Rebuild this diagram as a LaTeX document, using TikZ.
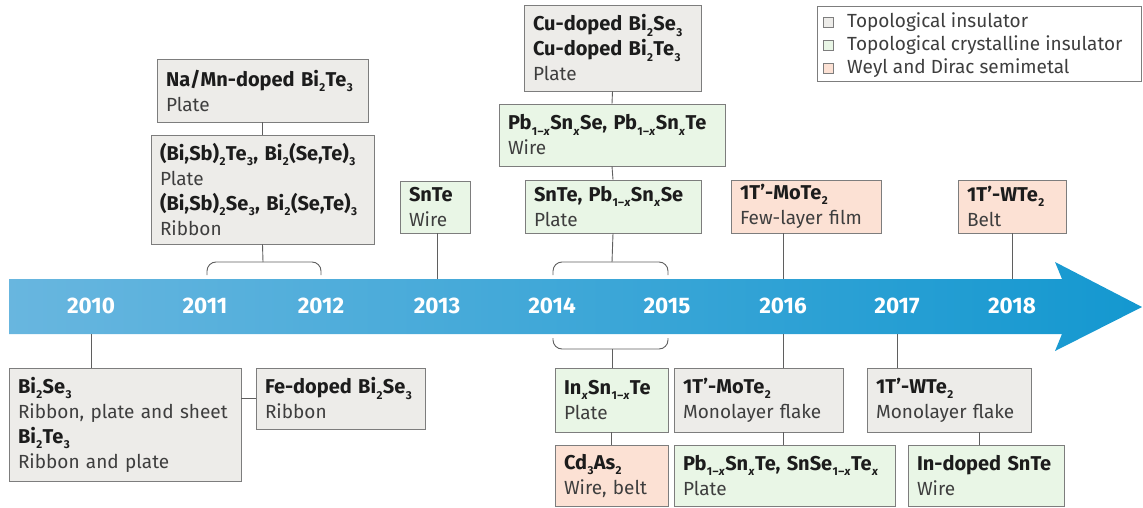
\documentclass[tikz,border=0pt]{standalone}
\usepackage{fontspec}
\setmainfont{Fira Sans}
\definecolor{tigrey}{RGB}{237,236,233}
\definecolor{tcigreen}{RGB}{233,246,230}
\definecolor{wdsalmon}{RGB}{252,225,212}
\definecolor{boxline}{RGB}{125,125,125}
\definecolor{connline}{RGB}{95,95,95}
\definecolor{txt}{RGB}{62,62,62}
\definecolor{txtb}{RGB}{28,28,28}
\definecolor{bandL}{RGB}{104,182,223}
\definecolor{bandR}{RGB}{20,152,208}
\newcommand\sbs[1]{\kern0.4pt\raisebox{-0.5ex}{\fontsize{11.5}{11.5}\selectfont #1}\kern0.4pt}
\newcommand\omx{1\kern0.3pt–\kern0.3pt\textit{x}}
\newcommand\hd[1]{{\fontsize{20}{25}\selectfont\textbf{\color{txtb}#1}}}
\newcommand\tlbox[7]{%
  \pgfmathsetmacro\bxw{#4-#2}%
  \pgfmathsetmacro\bxh{#5-#3}%
  \pgfmathsetmacro\bxt{#4-#2-18}%
  \node[#6, minimum width=\bxw pt, minimum height=\bxh pt, text width=\bxt pt] (#1) at ({(#2+#4)/2},{(#3+#5)/2}) {#7};}
\tikzset{
  bx/.style={draw=boxline, line width=0.9pt, inner xsep=9pt, inner ysep=1pt, align=left,
    font=\fontsize{19}{25}\selectfont, text=txt, anchor=center},
  tibox/.style={bx, fill=tigrey},
  tcibox/.style={bx, fill=tcigreen},
  wdbox/.style={bx, fill=wdsalmon},
  conn/.style={draw=connline, line width=0.9pt},
  brace/.style={draw=connline, line width=0.9pt, rounded corners=9pt},
  yr/.style={text=white, font=\fontsize{22.5}{22.5}\selectfont\bfseries, anchor=center},
  legsq/.style={draw=boxline, line width=0.7pt, minimum size=10pt, inner sep=0pt},
  legtxt/.style={anchor=west, text=txt, font=\fontsize{19}{19}\selectfont, inner sep=0pt},
}
\begin{document}
\begin{tikzpicture}[x=1pt,y=-1pt]
\useasboundingbox (0,0) rectangle (1143,508);
% timeline band
\shade[left color=bandL, right color=bandR]
  (9,279) -- (1062,279) -- (1055,262) -- (1142,307) -- (1055,351) -- (1062,334) -- (9,334) -- cycle;
\foreach \yy/\xx in {2010/91,2011/205,2012/321,2013/437,2014/552,2015/667,2016/783,2017/897,2018/1012}{
  \node[yr] (y\yy) at (\xx,306) {\yy};
  \coordinate (t\yy) at (\xx,279);
  \coordinate (b\yy) at (\xx,334);
}
% legend
\node[draw=boxline, line width=0.9pt, minimum width=324pt, minimum height=75pt, inner sep=0pt] (leg) at (979,43.5) {};
\node[legsq, fill=tigrey] (lsq1) at (828,22) {};
\node[legsq, fill=tcigreen] (lsq2) at (828,45) {};
\node[legsq, fill=wdsalmon] (lsq3) at (828,68) {};
\node[legtxt] (lt1) at (847,22) {Topological insulator};
\node[legtxt] (lt2) at (847,45) {Topological crystalline insulator};
\node[legtxt] (lt3) at (847,68) {Weyl and Dirac semimetal};
% upper boxes
\tlbox{A}{157}{59}{368}{122}{tibox}{\hd{Na/Mn-doped Bi\sbs{2}Te\sbs{3}}\\Plate}
\tlbox{B}{151}{135}{374}{244}{tibox}{\hd{(Bi,Sb)\sbs{2}Te\sbs{3}, Bi\sbs{2}(Se,Te)\sbs{3}}\\Plate\\\hd{(Bi,Sb)\sbs{2}Se\sbs{3}, Bi\sbs{2}(Se,Te)\sbs{3}}\\Ribbon}
\tlbox{C}{400}{181}{470}{233}{tcibox}{\hd{SnTe}\\Wire}
\tlbox{D}{524}{5}{701}{91}{tibox}{\hd{Cu-doped Bi\sbs{2}Se\sbs{3}}\\\hd{Cu-doped Bi\sbs{2}Te\sbs{3}}\\Plate}
\tlbox{E}{499}{104}{725}{166}{tcibox}{\hd{Pb\sbs{\omx}Sn\sbs{\textit{x}}Se, Pb\sbs{\omx}Sn\sbs{\textit{x}}Te}\\Wire}
\tlbox{F}{525}{180}{701}{233}{tcibox}{\hd{SnTe, Pb\sbs{\omx}Sn\sbs{\textit{x}}Se}\\Plate}
\tlbox{G}{731}{180}{881}{233}{wdbox}{\hd{1T’-MoTe\sbs{2}}\\Few-layer film}
\tlbox{H}{958}{180}{1066}{233}{wdbox}{\hd{1T’-WTe\sbs{2}}\\Belt}
% lower boxes
\tlbox{I}{9}{368}{241}{481}{tibox}{\hd{Bi\sbs{2}Se\sbs{3}}\\Ribbon, plate and sheet\\\hd{Bi\sbs{2}Te\sbs{3}}\\Ribbon and plate}
\tlbox{J}{256}{368}{425}{429}{tibox}{\hd{Fe-doped Bi\sbs{2}Se\sbs{3}}\\Ribbon}
\tlbox{K}{555}{368}{668}{432}{tcibox}{\hd{In\sbs{\textit{x}}Sn\sbs{\omx}Te}\\Plate}
\tlbox{L}{555}{445}{668}{506}{wdbox}{\hd{Cd\sbs{3}As\sbs{2}}\\Wire, belt}
\tlbox{M}{674}{368}{843}{432}{tibox}{\hd{1T’-MoTe\sbs{2}}\\Monolayer flake}
\tlbox{N}{674}{445}{895}{506}{tcibox}{\hd{Pb\sbs{\omx}Sn\sbs{\textit{x}}Te, SnSe\sbs{\omx}Te\sbs{\textit{x}}}\\Plate}
\tlbox{O}{867}{368}{1031}{432}{tibox}{\hd{1T’-WTe\sbs{2}}\\Monolayer flake}
\tlbox{P}{908}{445}{1064}{506}{tcibox}{\hd{In-doped SnTe}\\Wire}
% braces
\coordinate (br1) at (263,262);
\coordinate (br2) at (612,262);
\coordinate (br3) at (612,349);
\draw[brace] (207,275) -- (207,262) -- (321,262) -- (321,275);
\draw[brace] (553,275) -- (553,262) -- (668,262) -- (668,275);
\draw[brace] (553,338) -- (553,349) -- (668,349) -- (668,338);
% connectors above
\draw[conn] (A.south) -- (B.north);
\draw[conn] (B.south) -- (br1);
\draw[conn] (D.south) -- (E.north);
\draw[conn] (E.south) -- (F.north);
\draw[conn] (F.south) -- (br2);
\draw[conn] (C.south -| t2013) -- (t2013);
\draw[conn] (G.south -| t2016) -- (t2016);
\draw[conn] (H.south) -- (H.south |- t2018);
% connectors below
\draw[conn] (b2010) -- (b2010 |- I.north);
\draw[conn] (I.east |- J.west) -- (J.west);
\draw[conn] (br3) -- (br3 |- K.north);
\draw[conn] (K.south) -- (L.north);
\draw[conn] (b2016) -- (b2016 |- M.north);
\draw[conn] (b2016 |- M.south) -- (b2016 |- N.north);
\draw[conn] (b2017) -- (b2017 |- O.north);
\draw[conn] ([xshift=30pt]O.south) -- ([xshift=30pt]O.south |- P.north);
\end{tikzpicture}
\end{document}
